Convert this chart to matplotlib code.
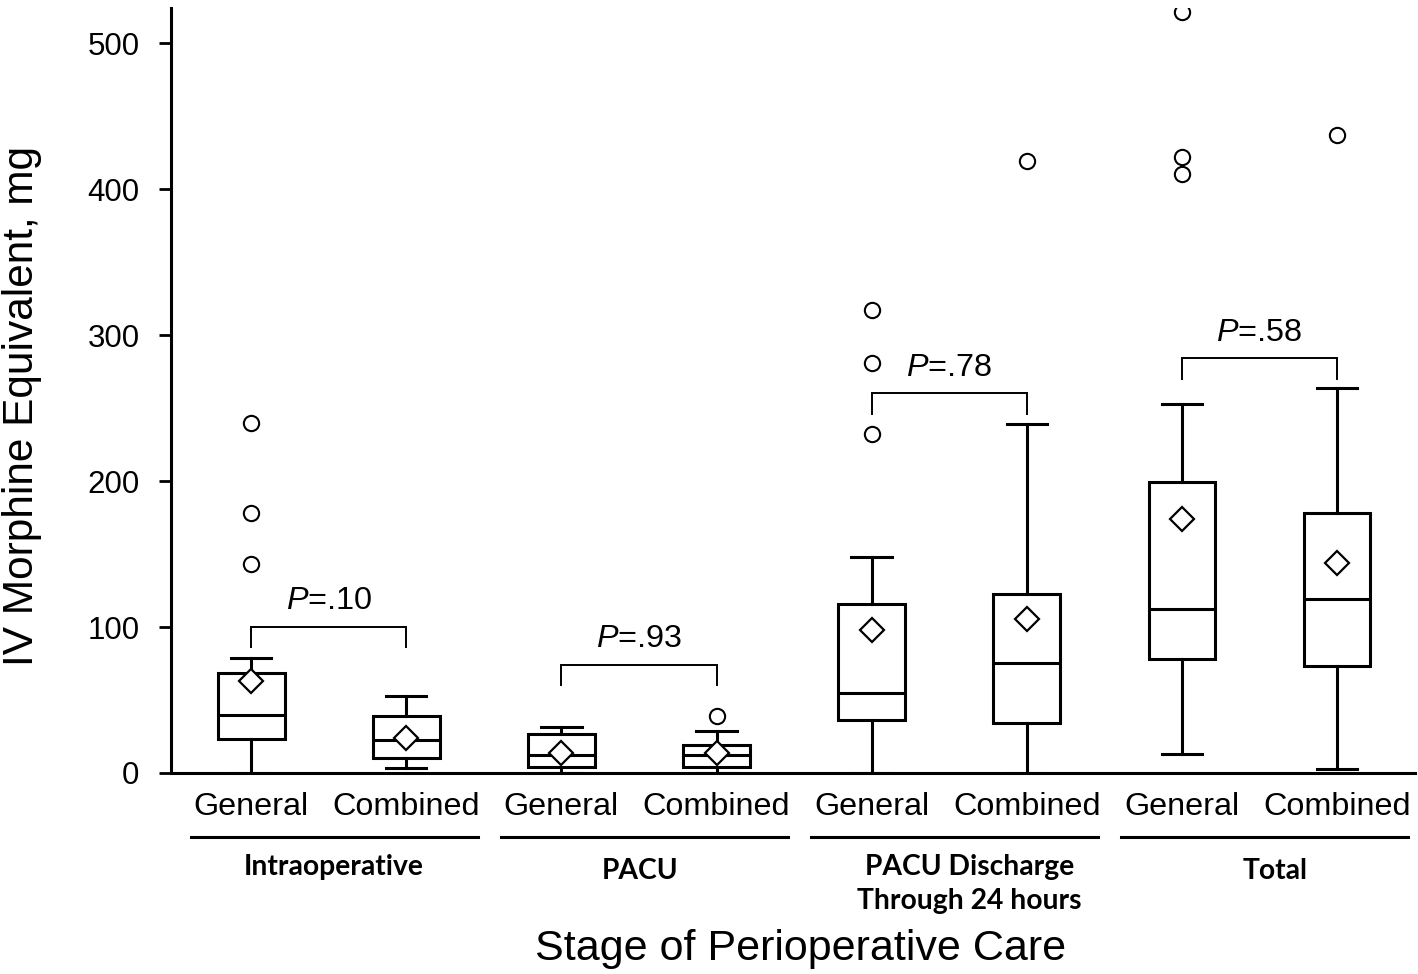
import numpy as np
import matplotlib
matplotlib.use("Agg")
import matplotlib.pyplot as plt
import matplotlib.transforms as mtransforms

plt.rcParams['font.family'] = ['Liberation Sans', 'DejaVu Sans']
plt.rcParams['mathtext.fontset'] = 'custom'
plt.rcParams['mathtext.it'] = 'Liberation Sans:italic'
plt.rcParams['mathtext.rm'] = 'Liberation Sans'

# data (mg IV morphine equivalent)
groups = ["Intraoperative", "PACU", "PACU Discharge\nThrough 24 hours", "Total"]
arms = ["General", "Combined"]

whislo = [0, 3.6, 0, 0, 0, 0, 13, 3]
q1 = [23, 10, 4.3, 4.3, 36.3, 34, 78, 73]
med = [40, 22.6, 12, 12, 55, 75.3, 112, 119]
q3 = [68.5, 39, 26.7, 19, 115.7, 122.6, 199, 178]
whishi = [78.5, 52.7, 31.7, 28.8, 148, 239, 253, 264]
means = [63, 24, 13.5, 13.5, 98, 105.5, 174, 144]
fliers = [[143, 178, 240], [], [], [39], [232, 281, 317], [419], [410, 422, 521], [437]]

p_labels = [".10", ".93", ".78", ".58"]
bracket_y = [100, 74, 260, 284]

W, H = 1418, 974
fig = plt.figure(figsize=(W / 100, H / 100), dpi=100)
ax = fig.add_axes([171 / W, 1 - 773 / H, (1415 - 171) / W, (773 - 8) / H])

pos = np.arange(len(med))
stats = []
for i in range(len(med)):
    stats.append(dict(whislo=whislo[i], q1=q1[i], med=med[i], q3=q3[i],
                      whishi=whishi[i], mean=means[i], fliers=fliers[i]))

lw = 2.2
ax.bxp(stats, positions=pos, widths=0.43, capwidths=0.26, showmeans=True,
       patch_artist=True,
       boxprops=dict(facecolor='white', edgecolor='black', linewidth=lw),
       medianprops=dict(color='black', linewidth=lw),
       whiskerprops=dict(color='black', linewidth=lw),
       capprops=dict(color='black', linewidth=lw),
       meanprops=dict(marker='D', markerfacecolor='white', markeredgecolor='black',
                      markersize=12, markeredgewidth=1.6, zorder=5),
       flierprops=dict(marker='o', markerfacecolor='none', markeredgecolor='black',
                       markersize=11, markeredgewidth=1.5))

# P-value brackets
for g in range(4):
    xa, xb = pos[2 * g], pos[2 * g + 1]
    yb = bracket_y[g]
    ax.plot([xa, xa, xb, xb], [yb - 14, yb, yb, yb - 14], color='black', lw=1.4,
            solid_joinstyle='miter')
    ax.text((xa + xb) / 2, yb + 12, "$P$=" + p_labels[g], ha='center', va='baseline',
            fontsize=23.3)

ax.set_xlim(-0.517, 7.503)
ax.set_ylim(0, 524)
ax.set_yticks([0, 100, 200, 300, 400, 500])
ax.tick_params(axis='y', direction='out', length=8.6, width=2, pad=14, labelsize=22.5)
ax.set_xticks(pos, arms * 4)
ax.tick_params(axis='x', length=0, pad=13.5, labelsize=23.3)
for s in ['top', 'right']:
    ax.spines[s].set_visible(False)
for s in ['left', 'bottom']:
    ax.spines[s].set_linewidth(2.2)

# group underlines and names below the tick labels
trans = mtransforms.blended_transform_factory(ax.transData, fig.transFigure)
label_dx = [0.03, 0.01, 0.13, 0.1]
base_px = [875, 879, 875, 879]
for g in range(4):
    xa, xb = pos[2 * g], pos[2 * g + 1]
    ax.plot([xa - 0.39, xb + 0.46], [1 - 837 / H] * 2, transform=trans,
            color='black', lw=2.2, clip_on=False)
    for k, line in enumerate(groups[g].split("\n")):
        ax.text((xa + xb) / 2 + label_dx[g], 1 - (base_px[g] + 34 * k) / H, line,
                transform=trans, ha='center', va='baseline', fontsize=20.3,
                fontfamily='Lato', fontweight='bold')

fig.text(22 / W, 1 - 406 / H, "IV Morphine Equivalent, mg", rotation=90,
         ha='center', va='center', fontsize=30.5)
fig.text(801 / W, 1 - 960 / H, "Stage of Perioperative Care", ha='center',
         va='baseline', fontsize=31)

fig.savefig("out.png", dpi=100, facecolor='white')
